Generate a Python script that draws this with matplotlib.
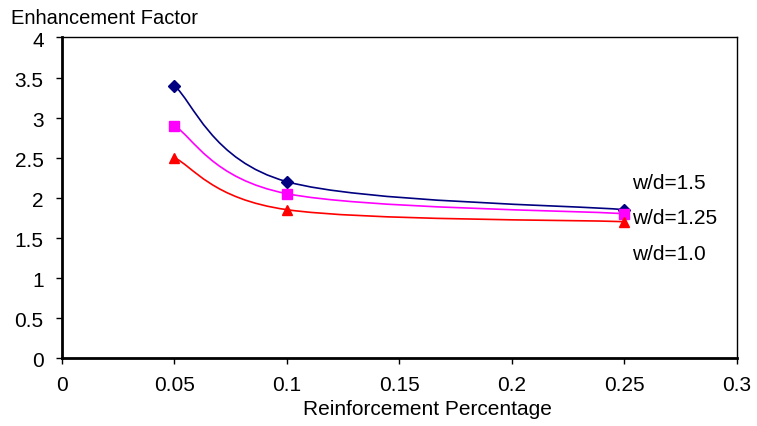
import numpy as np
import matplotlib
matplotlib.use("Agg")
import matplotlib.pyplot as plt
import matplotlib.transforms as mtransforms
from matplotlib.path import Path
from matplotlib.patches import PathPatch

plt.rcParams["font.family"] = ["Liberation Sans", "DejaVu Sans"]

# data
reinf = [0.05, 0.1, 0.25]
ef_15 = [3.4, 2.2, 1.85]
ef_125 = [2.9, 2.05, 1.8]
ef_10 = [2.5, 1.85, 1.7]
series_labels = ["w/d=1.5", "w/d=1.25", "w/d=1.0"]
label_y = [2.18, 1.74, 1.29]
xticks = [0, 0.05, 0.1, 0.15, 0.2, 0.25, 0.3]
yticks = [0, 0.5, 1, 1.5, 2, 2.5, 3, 3.5, 4]


def smooth_path(x, y):
    """Excel-style smoothed line: cubic Bezier through the points."""
    pts = np.column_stack([x, y])
    n = len(pts)
    verts = [pts[0]]
    codes = [Path.MOVETO]
    for i in range(n - 1):
        p0 = pts[i - 1] if i > 0 else pts[i]
        p1 = pts[i]
        p2 = pts[i + 1]
        p3 = pts[i + 2] if i + 2 < n else pts[i + 1]
        c1 = p1 + (p2 - p0) / 6.0
        c2 = p2 - (p3 - p1) / 6.0
        verts += [c1, c2, p2]
        codes += [Path.CURVE4] * 3
    return Path(verts, codes)


fig = plt.figure(figsize=(7.57, 4.26), dpi=100)
ax = fig.add_axes([0.0815, 0.16, 0.8921, 0.752])

styles = [
    (ef_15, "#000080", "D", 6.5),
    (ef_125, "#FF00FF", "s", 7),
    (ef_10, "#FF0000", "^", 7),
]
for vals, col, mk, ms in styles:
    ax.add_patch(PathPatch(smooth_path(reinf, vals), facecolor="none",
                           edgecolor=col, lw=1.2, transform=ax.transData))
    ax.plot(reinf, vals, linestyle="none", marker=mk, color=col,
            markersize=ms, clip_on=False, zorder=3)

for lab, ly in zip(series_labels, label_y):
    ax.text(0.2535, ly, lab, fontsize=15, va="center", ha="left")

ax.set_xlim(0, 0.3)
ax.set_ylim(0, 4)
ax.set_xticks(xticks)
ax.set_xticklabels([f"{v:g}" for v in xticks])
ax.set_yticks(yticks)
ax.set_yticklabels([f"{v:g}" for v in yticks])
ax.tick_params(direction="out", length=4, width=1, labelsize=15)
ax.tick_params(axis="x", pad=9)
ax.tick_params(axis="y", pad=9)

# y labels sit a touch below their ticks in the original
shift = mtransforms.ScaledTranslation(0, -2 / 100, fig.dpi_scale_trans)
for lbl in ax.get_yticklabels():
    lbl.set_transform(lbl.get_transform() + shift)

for side in ["left", "bottom"]:
    ax.spines[side].set_linewidth(2)
for side in ["top", "right"]:
    ax.spines[side].set_linewidth(1)

ax.set_xlabel("Reinforcement Percentage", fontsize=15, va="center")
ax.xaxis.set_label_coords(0.541, -0.162)
fig.text(0.015, 0.957, "Enhancement Factor", fontsize=14.5, va="center", ha="left")

fig.savefig("out.png", dpi=100)
